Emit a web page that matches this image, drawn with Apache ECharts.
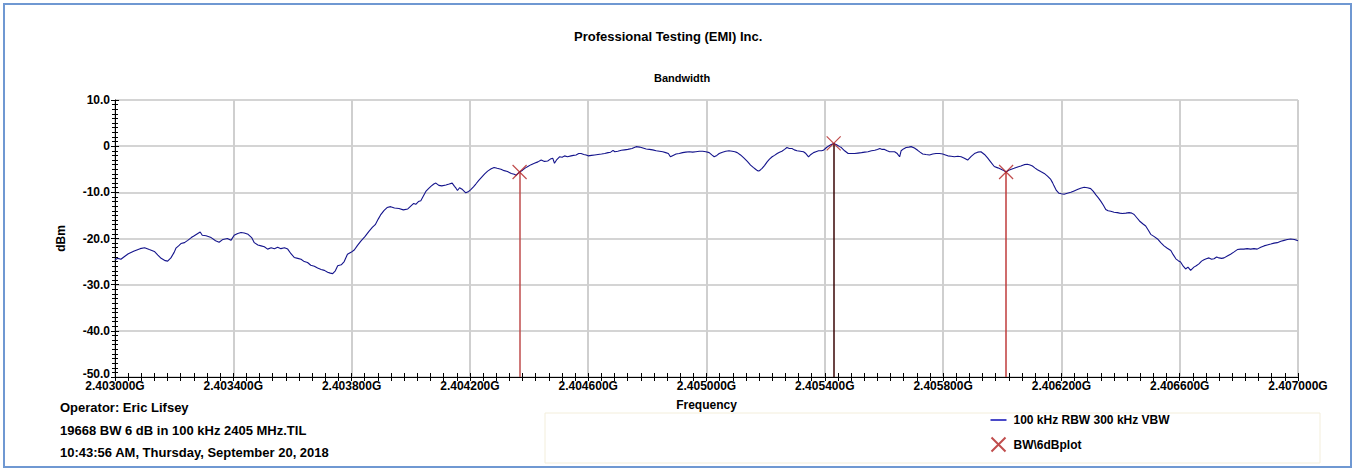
<!DOCTYPE html>
<html>
    <head>
        <meta charset="UTF-8" />
        <script src="https://cdn.jsdelivr.net/npm/echarts@6/dist/echarts.min.js"></script>
        <style>
            body { margin: 0; background: #fff; }
        </style>
    </head>

    <body>
        <div id="main" style="width: 1355px; height: 470px"></div>
        <script type="text/javascript">
            // frequency axis is in kHz above the start frequency
            var START_KHZ = 2403000;

            var offsetKHz = [
                0, 10, 20, 30, 45, 65, 85, 100, 116, 133,
                145, 156, 170, 178, 189, 200, 206, 215, 223, 235,
                246, 258, 268, 280, 288, 295, 308, 325, 340, 352,
                365, 380, 392, 403, 415, 426, 437, 450, 462, 471,
                483, 494, 505, 516, 528, 539, 550, 561, 573, 584,
                595, 606, 618, 629, 640, 651, 662, 674, 685, 697,
                708, 719, 728, 736, 745, 753, 765, 775, 786, 798,
                809, 820, 832, 845, 858, 870, 880, 890, 898, 910,
                920, 932, 945, 960, 975, 990, 1000, 1010, 1017, 1026,
                1034, 1045, 1051, 1060, 1068, 1078, 1085, 1095, 1105, 1119,
                1130, 1140, 1148, 1153, 1158, 1165, 1175, 1186, 1196, 1203,
                1212, 1220, 1230, 1240, 1250, 1260, 1272, 1282, 1292, 1305,
                1316, 1327, 1340, 1350, 1356, 1361, 1368, 1378, 1388, 1396,
                1407, 1418, 1430, 1441, 1452, 1463, 1472, 1480, 1486, 1494,
                1503, 1512, 1520, 1530, 1542, 1550, 1559, 1568, 1576, 1585,
                1593, 1600, 1611, 1622, 1633, 1645, 1656, 1667, 1676, 1684,
                1690, 1700, 1712, 1723, 1734, 1748, 1762, 1774, 1785, 1796,
                1807, 1818, 1830, 1841, 1852, 1862, 1871, 1878, 1887, 1897,
                1908, 1919, 1930, 1942, 1953, 1964, 1976, 1987, 1998, 2009,
                2018, 2026, 2035, 2043, 2054, 2065, 2076, 2087, 2096, 2104,
                2115, 2127, 2138, 2149, 2158, 2166, 2172, 2177, 2183, 2188,
                2196, 2205, 2213, 2222, 2230, 2239, 2247, 2255, 2264, 2272,
                2280, 2289, 2297, 2306, 2317, 2328, 2336, 2345, 2353, 2362,
                2370, 2379, 2389, 2395, 2404, 2412, 2420, 2430, 2440, 2450,
                2456, 2467, 2479, 2490, 2501, 2512, 2524, 2535, 2546, 2558,
                2569, 2578, 2586, 2594, 2602, 2611, 2619, 2628, 2636, 2645,
                2653, 2658, 2666, 2675, 2684, 2692, 2703, 2714, 2722, 2731,
                2742, 2754, 2765, 2776, 2788, 2799, 2808, 2816, 2827, 2838,
                2850, 2861, 2872, 2883, 2895, 2906, 2917, 2928, 2940, 2951,
                2962, 2973, 2985, 2996, 3005, 3013, 3022, 3031, 3040, 3052,
                3063, 3074, 3085, 3094, 3102, 3110, 3119, 3130, 3142, 3153,
                3164, 3170, 3175, 3183, 3192, 3200, 3209, 3220, 3232, 3243,
                3254, 3265, 3277, 3288, 3299, 3308, 3316, 3325, 3333, 3342,
                3350, 3358, 3367, 3378, 3389, 3397, 3406, 3418, 3429, 3438,
                3446, 3455, 3464, 3475, 3485, 3494, 3502, 3514, 3525, 3536,
                3547, 3558, 3570, 3578, 3587, 3595, 3603, 3612, 3620, 3628,
                3637, 3648, 3656, 3665, 3674, 3682, 3690, 3699, 3708, 3716,
                3725, 3733, 3742, 3750, 3761, 3772, 3784, 3795, 3806, 3817,
                3828, 3840, 3851, 3862, 3874, 3885, 3896, 3908, 3919, 3930,
                3942, 3953, 3964, 3975, 3988, 4000
            ];

            var levelDbm = [
                -24.6, -24.3, -24.5, -24.0, -23.3, -22.7, -22.2, -22.0, -22.4, -22.8,
                -23.6, -24.3, -24.8, -24.9, -24.2, -23.0, -22.1, -21.6, -21.1, -20.9,
                -20.4, -19.8, -19.4, -18.9, -18.6, -19.3, -19.4, -19.8, -20.5, -20.8,
                -20.2, -20.0, -20.4, -19.3, -18.9, -18.7, -18.8, -19.1, -19.8, -20.9,
                -21.4, -21.6, -21.8, -22.3, -22.0, -22.2, -21.9, -22.2, -22.0, -22.3,
                -23.3, -24.1, -24.3, -24.5, -25.0, -25.2, -25.8, -26.0, -26.4, -26.7,
                -26.9, -27.3, -27.5, -27.6, -27.0, -25.9, -25.7, -25.0, -23.4, -23.0,
                -22.5, -21.5, -20.5, -19.6, -18.5, -17.6, -17.0, -15.8, -14.9, -13.9,
                -13.3, -13.1, -13.4, -13.5, -13.8, -13.6, -13.0, -12.4, -12.6, -12.0,
                -11.8, -10.5, -9.8, -9.2, -8.7, -8.2, -8.0, -8.5, -8.6, -8.4,
                -8.2, -8.0, -8.7, -9.1, -9.6, -9.0, -9.4, -10.1, -9.8, -9.4,
                -8.8, -8.2, -7.4, -6.7, -6.0, -5.4, -4.9, -4.6, -4.8, -5.0,
                -5.3, -5.5, -5.9, -6.1, -6.3, -6.0, -5.6, -5.2, -4.7, -4.4,
                -4.0, -3.7, -3.4, -3.0, -3.3, -3.2, -2.8, -2.6, -3.7, -2.9,
                -2.3, -2.4, -2.1, -2.3, -2.1, -2.0, -1.9, -1.6, -1.6, -1.8,
                -1.9, -2.1, -2.0, -1.9, -1.8, -1.7, -1.6, -1.4, -1.3, -0.9,
                -1.2, -1.1, -0.9, -0.8, -0.7, -0.5, -0.1, -0.2, -0.4, -0.6,
                -0.7, -0.8, -1.0, -1.1, -1.2, -1.4, -1.6, -2.3, -2.0, -1.7,
                -1.6, -1.4, -1.3, -1.2, -1.3, -1.2, -1.1, -1.1, -1.2, -1.4,
                -1.9, -2.3, -2.0, -1.6, -1.3, -1.1, -1.0, -1.1, -1.2, -1.4,
                -1.9, -2.6, -3.3, -4.1, -4.6, -5.0, -5.3, -5.4, -5.1, -4.8,
                -4.2, -3.4, -2.8, -2.3, -2.0, -1.6, -1.3, -1.1, -0.7, -0.3,
                -0.5, -0.5, -0.8, -1.0, -1.1, -1.2, -1.6, -2.3, -1.8, -1.4,
                -1.2, -1.0, -1.0, -0.9, -0.4, 0.0, 0.3, 0.6, 0.3, -0.1,
                -0.3, -1.0, -1.6, -1.6, -1.6, -1.5, -1.4, -1.3, -1.2, -1.0,
                -0.9, -0.7, -0.5, -0.7, -0.7, -1.0, -1.2, -1.2, -1.2, -1.6,
                -2.3, -1.0, -0.6, -0.3, -0.2, -0.1, -0.4, -0.9, -1.3, -1.7,
                -1.8, -1.9, -1.7, -1.6, -1.6, -1.7, -1.9, -2.1, -2.2, -2.3,
                -2.2, -2.3, -2.6, -3.0, -2.2, -1.6, -1.3, -1.2, -1.8, -2.6,
                -3.5, -4.4, -4.7, -5.0, -5.3, -5.6, -5.2, -5.0, -4.8, -4.5,
                -4.3, -4.0, -3.9, -4.1, -4.3, -4.7, -5.1, -5.5, -5.9, -6.5,
                -7.2, -7.9, -8.6, -9.6, -10.2, -10.3, -10.4, -10.2, -10.0, -9.7,
                -9.4, -9.1, -8.9, -9.0, -9.2, -9.8, -10.5, -11.2, -11.9, -12.8,
                -13.7, -14.0, -14.1, -14.3, -14.4, -14.5, -14.6, -14.5, -14.4, -14.5,
                -14.8, -15.5, -16.2, -16.8, -17.3, -18.2, -19.1, -19.6, -20.1, -20.9,
                -21.6, -22.1, -22.6, -23.5, -24.4, -24.8, -25.1, -26.0, -26.6, -26.2,
                -26.9, -26.2, -25.9, -25.5, -24.9, -24.6, -24.4, -24.2, -24.5, -24.4,
                -24.0, -24.2, -24.3, -24.2, -23.8, -23.4, -22.9, -22.4, -22.3, -22.3,
                -22.2, -22.3, -22.2, -22.3, -21.9, -21.6, -21.4, -21.2, -21.0, -20.9,
                -20.6, -20.4, -20.2, -20.1, -20.2, -20.5
            ];

            // 6 dB bandwidth markers
            var markerKHz = [1368, 2430, 3013];
            var markerDbm = [-5.6, 0.6, -5.6];

            var traceName = '100 kHz RBW 300 kHz VBW';
            var markerName = 'BW\\6dBplot';
            var footerLines = [
                'Operator: Eric Lifsey',
                '19668 BW 6 dB in 100 kHz 2405 MHz.TIL',
                '10:43:56 AM, Thursday, September 20, 2018'
            ];

            var FONT = 'Liberation Sans, Arial, sans-serif';
            var markerLineColors = ['#bf4d4d', '#3a0606', '#bf3b3b'];

            var trace = offsetKHz.map(function (f, i) { return [f, levelDbm[i]]; });
            var markers = markerKHz.map(function (f, i) { return [f, markerDbm[i]]; });
            var dropLines = markerKHz.map(function (f, i) {
                return [
                    { coord: [f, -50], lineStyle: { color: markerLineColors[i] } },
                    { coord: [f, markerDbm[i]] }
                ];
            });

            var chart = echarts.init(document.getElementById('main'), null, { renderer: 'svg' });

            var labelStyle = { color: '#000', fontFamily: FONT, fontWeight: 'bold', fontSize: 12 };

            var xBase = {
                type: 'value', min: 0, max: 4000, interval: 400,
                gridIndex: 0, position: 'bottom'
            };
            var yBase = {
                type: 'value', min: -50, max: 10, interval: 10,
                gridIndex: 0, position: 'left'
            };

            var option = {
                animation: false,
                backgroundColor: '#fff',
                title: [
                    {
                        text: 'Professional Testing (EMI) Inc.',
                        left: 569, top: 25,
                        textStyle: { color: '#000', fontFamily: FONT, fontWeight: 'bold', fontSize: 13 }
                    },
                    {
                        text: 'Bandwidth',
                        left: 649, top: 67,
                        textStyle: { color: '#000', fontFamily: FONT, fontWeight: 'bold', fontSize: 11 }
                    }
                ],
                grid: { left: 115, right: 57, top: 100, bottom: 93 },
                xAxis: [
                    Object.assign({}, xBase, {
                        name: 'Frequency',
                        nameLocation: 'middle',
                        nameGap: 22,
                        nameTextStyle: labelStyle,
                        axisLine: { show: true, onZero: false, lineStyle: { color: '#000', width: 1 } },
                        axisTick: { show: true, inside: false, length: 4, lineStyle: { color: '#000' } },
                        minorTick: { show: true, splitNumber: 9, length: 4, lineStyle: { color: '#000' } },
                        axisLabel: Object.assign({ margin: 3,
                            formatter: function (v) { return ((START_KHZ + v) / 1e6).toFixed(6) + 'G'; }
                        }, labelStyle),
                        splitLine: { show: true, lineStyle: { color: '#cfcfcf', width: 2 } }
                    }),
                    Object.assign({}, xBase, {
                        axisLine: { show: false, onZero: false },
                        axisTick: { show: true, inside: true, length: 4, lineStyle: { color: '#000' } },
                        minorTick: { show: true, splitNumber: 9, length: 4, lineStyle: { color: '#000' } },
                        axisLabel: { show: false },
                        splitLine: { show: false }
                    })
                ],
                yAxis: [
                    Object.assign({}, yBase, {
                        name: 'dBm',
                        nameLocation: 'middle',
                        nameGap: 48,
                        nameRotate: 90,
                        nameTextStyle: labelStyle,
                        axisLine: { show: true, onZero: false, lineStyle: { color: '#000', width: 1 } },
                        axisTick: { show: true, inside: false, length: 4, lineStyle: { color: '#000' } },
                        minorTick: { show: true, splitNumber: 10, length: 3, lineStyle: { color: '#000' } },
                        axisLabel: Object.assign({ margin: 5,
                            formatter: function (v) {
                                if (v === -50) return '{low|' + v.toFixed(1) + '}';
                                return v === 0 ? '0' : v.toFixed(1);
                            },
                            rich: { low: { color: '#000', fontFamily: FONT, fontWeight: 'bold', fontSize: 12, padding: [0, 0, 6, 0] } }
                        }, labelStyle),
                        splitLine: { show: true, lineStyle: { color: '#d4d4d4', width: 2 } }
                    }),
                    Object.assign({}, yBase, {
                        axisLine: { show: false, onZero: false },
                        axisTick: { show: true, inside: true, length: 4, lineStyle: { color: '#000' } },
                        minorTick: { show: true, splitNumber: 10, length: 3, lineStyle: { color: '#000' } },
                        axisLabel: { show: false },
                        splitLine: { show: false }
                    })
                ],
                legend: {
                    orient: 'vertical',
                    left: 984, top: 409,
                    itemGap: 9,
                    itemWidth: 16, itemHeight: 14,
                    textStyle: { color: '#000', fontFamily: FONT, fontWeight: 'bold', fontSize: 12, padding: [0, 0, 0, 2] },
                    data: [
                        { name: traceName, icon: 'path://M0,0H16V2H0Z', itemStyle: { color: '#4a4ac8' } },
                        { name: markerName }
                    ]
                },
                graphic: [
                    {
                        type: 'rect', z: -10, silent: true,
                        shape: { x: 4, y: 4, width: 1347, height: 463 },
                        style: { fill: 'none', stroke: '#6f98d2', lineWidth: 2 }
                    },
                    {
                        type: 'rect', z: -10, silent: true,
                        shape: { x: 545, y: 413, width: 775, height: 50 },
                        style: { fill: 'none', stroke: '#f3eedb', lineWidth: 1 }
                    }
                ].concat(footerLines.map(function (t, i) {
                    return {
                        type: 'text', left: 60, top: 401 + i * 22.5, silent: true,
                        style: { text: t, fill: '#000', font: 'bold 13px ' + FONT }
                    };
                })),
                series: [
                    {
                        name: traceName,
                        type: 'line',
                        data: trace,
                        showSymbol: false,
                        symbol: 'none',
                        sampling: 'none',
                        color: '#14148c',
                        lineStyle: { color: '#14148c', width: 1.1 },
                        z: 3
                    },
                    {
                        name: markerName,
                        type: 'scatter',
                        data: markers,
                        symbol: 'path://M0,0L10,10M10,0L0,10',
                        symbolSize: 14,
                        itemStyle: { color: 'none', borderColor: '#b02020', borderWidth: 1.2 },
                        z: 5,
                        markLine: {
                            silent: true,
                            symbol: 'none',
                            label: { show: false },
                            lineStyle: { type: 'solid', width: 1.5 },
                            data: dropLines
                        }
                    }
                ]
            };

            chart.setOption(option);
        </script>
    </body>
</html>
